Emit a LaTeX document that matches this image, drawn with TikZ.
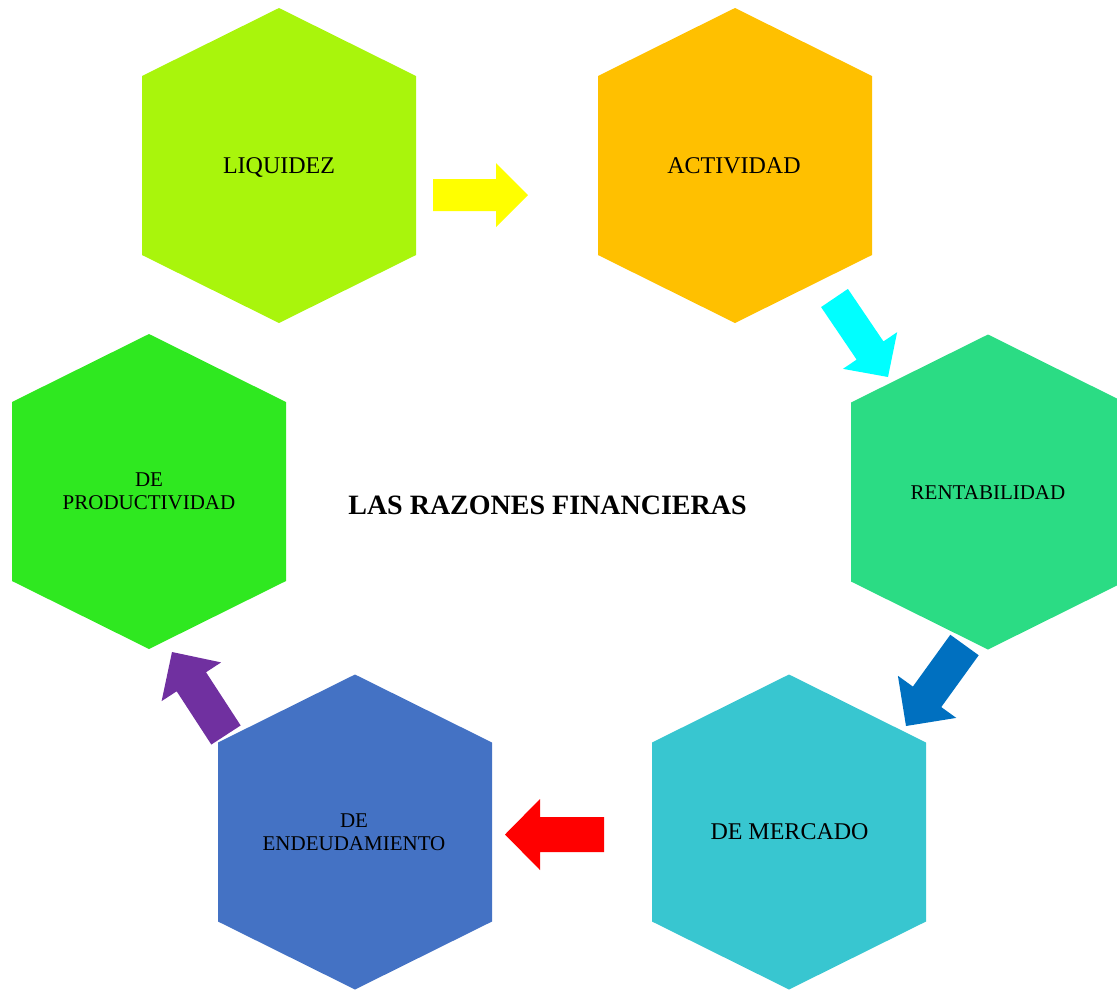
\documentclass[tikz,border=0pt]{standalone}
\usepackage{fontspec}
\setmainfont{Liberation Serif}
\usetikzlibrary{calc}
\definecolor{cLiq}{HTML}{A9F50C}
\definecolor{cAct}{HTML}{FFC000}
\definecolor{cRen}{HTML}{2BDC84}
\definecolor{cPro}{HTML}{2FE820}
\definecolor{cMer}{HTML}{38C6D0}
\definecolor{cEnd}{HTML}{4472C4}
\definecolor{aYel}{HTML}{FFFF00}
\definecolor{aCya}{HTML}{00FFFF}
\definecolor{aBlu}{HTML}{0070C0}
\definecolor{aRed}{HTML}{FF0000}
\definecolor{aPur}{HTML}{7030A0}
\newcommand{\blockarrow}[6]{%
  \coordinate (ba-c) at ($(#3)!#6!(#2)$);
  \fill[#1] ($(#2)!#4!90:(#3)$) -- ($(ba-c)!#4!90:(#3)$) -- ($(ba-c)!#5!90:(#3)$) -- (#3)
    -- ($(ba-c)!#5!-90:(#3)$) -- ($(ba-c)!#4!-90:(#3)$) -- ($(#2)!#4!-90:(#3)$) -- cycle;
}
\tikzset{
  hexa/.pic={\fill[#1] (0,-157.5) -- (137,-89.5) -- (137,89.5) -- (0,157.5) -- (-137,89.5) -- (-137,-89.5) -- cycle;},
  big/.style={font=\fontsize{24}{27}\selectfont, anchor=base, inner sep=0pt},
  small/.style={font=\fontsize{21}{23}\selectfont, align=center, inner sep=0pt},
  titletext/.style={font=\fontsize{28}{30}\selectfont\bfseries, anchor=base, inner sep=0pt}
}
\begin{document}
\begin{tikzpicture}[x=1pt,y=-1pt]
\useasboundingbox (0,0) rectangle (1117,989);
% hexagons
\pic (hLiq) at (279,165.5) {hexa=cLiq};
\pic (hAct) at (735,165.5) {hexa=cAct};
\pic (hRen) at (988,492) {hexa=cRen};
\pic (hPro) at (149,491.5) {hexa=cPro};
\pic (hMer) at (789,832) {hexa=cMer};
\pic (hEnd) at (355,832) {hexa=cEnd};
% labels
\node[big] (liq) at (279,173) {LIQUIDEZ};
\node[big] (act) at (734,173) {ACTIVIDAD};
\node[small, anchor=base] (ren) at (988,499) {RENTABILIDAD};
\node[small] (pro) at (149,491) {DE\\PRODUCTIVIDAD};
\node[big] (mer) at (789.5,839) {DE MERCADO};
\node[small] (end) at (354,832) {DE\\ENDEUDAMIENTO};
\node[titletext] (title) at (547.5,514) {LAS RAZONES FINANCIERAS};
% arrow end points
\coordinate (a1s) at (433,195);
\coordinate (a1e) at (528,195);
\coordinate (a2s) at (834.5,298);
\coordinate (a2e) at (888,377);
\coordinate (a3s) at (964.5,645);
\coordinate (a3e) at (906,726);
\coordinate (a4s) at (604,834.5);
\coordinate (a4e) at (505,834.5);
\coordinate (a5s) at (226,735);
\coordinate (a5e) at (172,652);
\blockarrow{aYel}{a1s}{a1e}{16pt}{32pt}{32pt}
\blockarrow{aCya}{a2s}{a2e}{16.2pt}{32.7pt}{32pt}
\blockarrow{aBlu}{a3s}{a3e}{17.5pt}{36pt}{36pt}
\blockarrow{aRed}{a4s}{a4e}{17.5pt}{35.5pt}{35pt}
\blockarrow{aPur}{a5s}{a5e}{17.5pt}{35.5pt}{35.5pt}
\end{tikzpicture}
\end{document}
